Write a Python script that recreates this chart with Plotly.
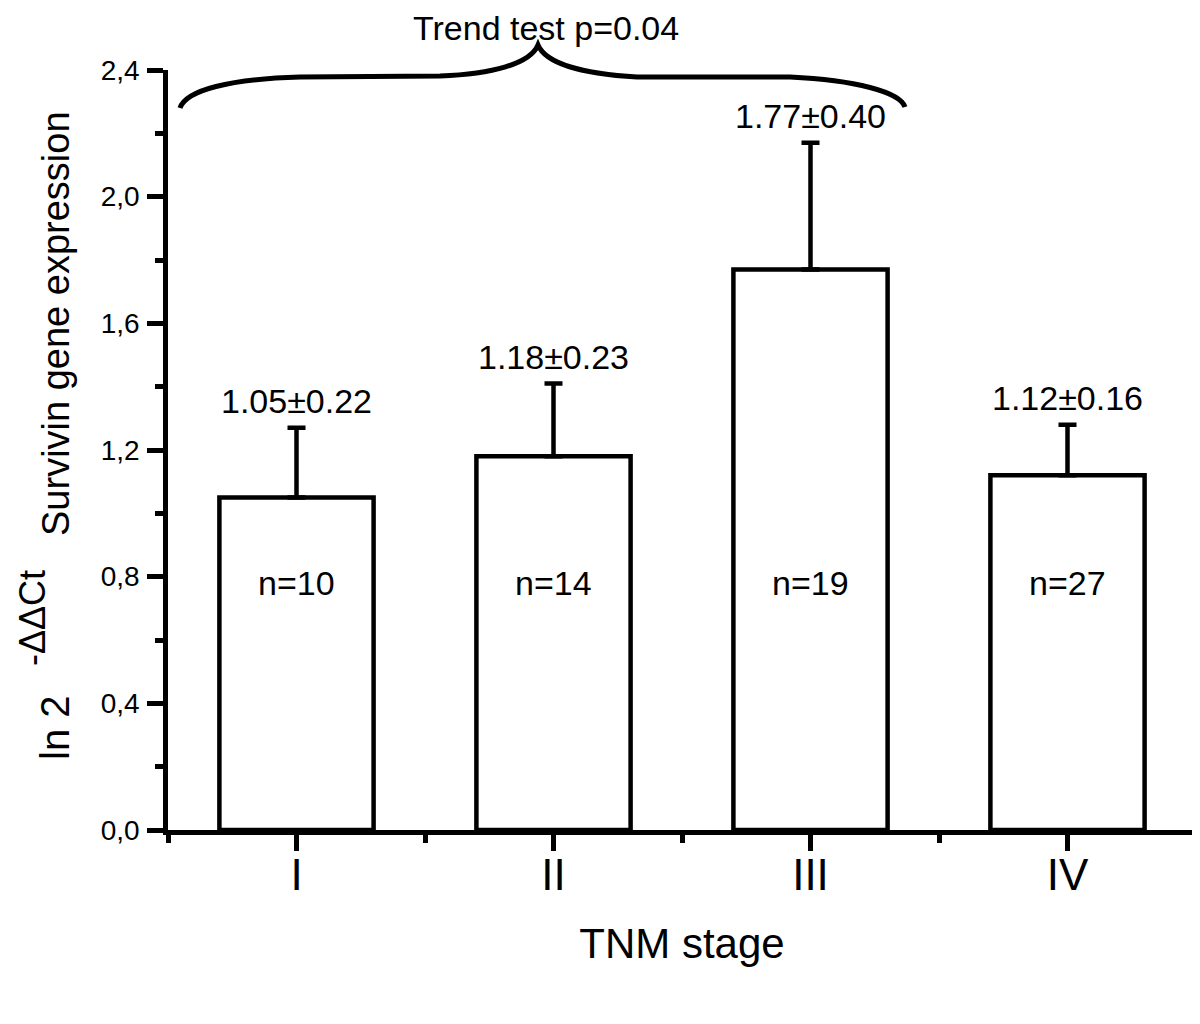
import plotly.graph_objects as go

# ---- data ----
stages = ["I", "II", "III", "IV"]
means = [1.05, 1.18, 1.77, 1.12]
sems = [0.22, 0.23, 0.40, 0.16]
ns = [10, 14, 19, 27]
y_ticks = [0.0, 0.4, 0.8, 1.2, 1.6, 2.0, 2.4]
trend_label = "Trend test p=0.04"

FONT = "Liberation Sans, Arial, Helvetica, sans-serif"

# The HTML page has an 8px body margin; target plot area in window pixels:
# x 168..1196, y 70..830
OFF = 8
W, H = 1200 - OFF, 1024 - OFF
L, T = 168 - OFF, 70 - OFF
R = W - (1196 - OFF)
B = H - (830 - OFF)
PW, PH = W - L - R, H - T - B


def px(x):  # window pixel -> paper
    return (x - OFF - L) / PW


def py(y):
    return (H - B - (y - OFF)) / PH


xpos = [i + 1 for i in range(len(stages))]

fig = go.Figure()
fig.add_trace(go.Bar(
    x=xpos, y=means, width=0.6,
    marker=dict(color="white", line=dict(color="black", width=4.5)),
    error_y=dict(type="data", array=sems, arrayminus=[0] * len(sems), symmetric=False,
                 color="black", thickness=4.5, width=9),
    showlegend=False, hoverinfo="skip",
))

annotations = []
for x, m, s, n in zip(xpos, means, sems, ns):
    annotations.append(dict(x=x, y=m + s, xref="x", yref="y", text=f"{m:.2f}±{s:.2f}",
                            showarrow=False, yanchor="bottom", yshift=6,
                            font=dict(family=FONT, size=34, color="black")))
    annotations.append(dict(x=x, y=0.78, xref="x", yref="y", text=f"n={n}",
                            showarrow=False, yanchor="middle",
                            font=dict(family=FONT, size=34, color="black")))

# y-axis title pieces (rotated)
annotations.append(dict(x=px(56), y=py(324), xref="paper", yref="paper",
                        text="Survivin gene expression", textangle=-90, showarrow=False,
                        xanchor="center", yanchor="middle",
                        font=dict(family=FONT, size=38, color="black")))
annotations.append(dict(x=px(55), y=py(728), xref="paper", yref="paper",
                        text="ln 2", textangle=-90, showarrow=False,
                        xanchor="center", yanchor="middle",
                        font=dict(family=FONT, size=40, color="black")))
annotations.append(dict(x=px(32), y=py(618), xref="paper", yref="paper",
                        text="-ΔΔCt", textangle=-90, showarrow=False,
                        xanchor="center", yanchor="middle",
                        font=dict(family=FONT, size=36, color="black")))
# trend test label
annotations.append(dict(x=px(546), y=py(OFF), xref="paper", yref="paper",
                        text=trend_label, showarrow=False,
                        xanchor="center", yanchor="top", borderpad=0,
                        font=dict(family=FONT, size=34, color="black")))


def P(x, y):
    return f"{px(x):.5f},{py(y):.5f}"


brace = (f"M {P(180,108)} C {P(186,90)} {P(230,79)} {P(300,77)} "
         f"L {P(440,76)} C {P(492,74)} {P(530,64)} {P(538,45)} "
         f"C {P(546,64)} {P(584,74)} {P(637,77)} "
         f"L {P(790,77)} C {P(855,80)} {P(900,92)} {P(905,107)}")

fig.update_layout(
    width=W, height=H,
    margin=dict(l=L, r=R, t=T, b=B, pad=0, autoexpand=False),
    paper_bgcolor="white", plot_bgcolor="white",
    separators=",.",
    font=dict(family=FONT, color="black"),
    annotations=annotations,
    shapes=[dict(type="path", path=brace, xref="paper", yref="paper",
                 line=dict(color="black", width=5), layer="above")],
    xaxis=dict(
        range=[0.5, 4.5], tickvals=xpos, ticktext=stages,
        showline=True, linecolor="black", linewidth=4.5,
        ticks="outside", ticklen=16, tickwidth=4.5, tickcolor="black",
        minor=dict(tick0=0.5, dtick=1, ticks="outside", ticklen=8, tickwidth=4.5, tickcolor="black"),
        showgrid=False, zeroline=False, automargin=False,
        tickfont=dict(family=FONT, size=44, color="black"),
        ticklabelstandoff=-14,
        title=dict(text="TNM stage", font=dict(family=FONT, size=42, color="black"), standoff=33),
    ),
    yaxis=dict(
        range=[0, 2.4], tickvals=y_ticks, tickformat=".1f",
        showline=True, linecolor="black", linewidth=4.5,
        ticks="outside", ticklen=16, tickwidth=4.5, tickcolor="black",
        minor=dict(dtick=0.2, ticks="outside", ticklen=8, tickwidth=4.5, tickcolor="black"),
        showgrid=False, zeroline=False, automargin=False,
        tickfont=dict(family=FONT, size=28, color="black"),
        ticklabelstandoff=2,
    ),
)

fig.write_html("out.html")
